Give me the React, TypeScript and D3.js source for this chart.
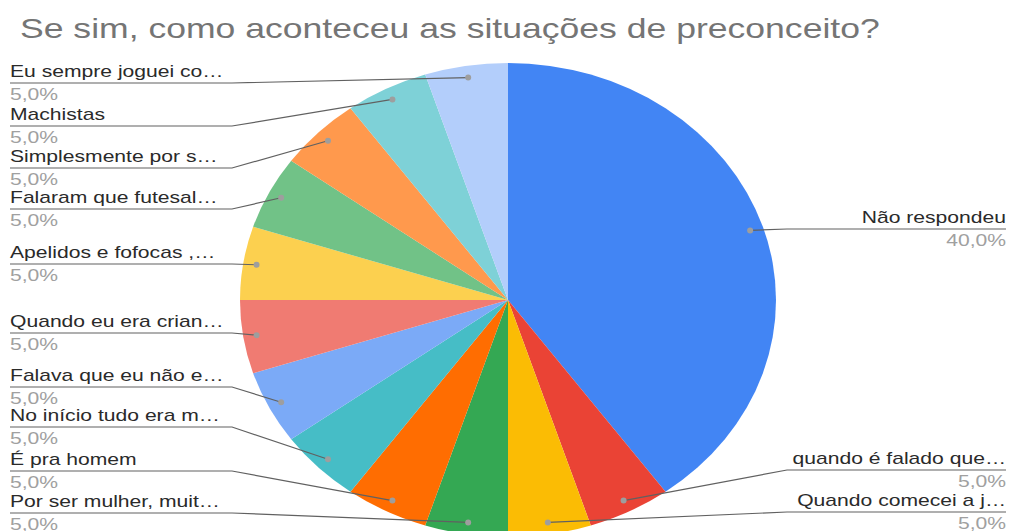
import { useRef, useEffect } from "react";
import * as d3 from "d3";

const title = "Se sim, como aconteceu as situações de preconceito?";

const categories = [
  "Não respondeu",
  "quando é falado que…",
  "Quando comecei a j…",
  "Por ser mulher, muit…",
  "É pra homem",
  "No início tudo era m…",
  "Falava que eu não e…",
  "Quando eu era crian…",
  "Apelidos e fofocas ,…",
  "Falaram que futesal…",
  "Simplesmente por s…",
  "Machistas",
  "Eu sempre joguei co…",
];

const values = [40, 5, 5, 5, 5, 5, 5, 5, 5, 5, 5, 5, 5];

const colors = [
  "#4285f4",
  "#ea4335",
  "#fbbc04",
  "#34a853",
  "#ff6d01",
  "#46bdc6",
  "#7baaf7",
  "#f07b72",
  "#fcd04f",
  "#71c287",
  "#ff994d",
  "#7ed1d7",
  "#b3cefb",
];

// y of the leader line under each label (layout only)
const labelLineY = [229, 470, 512, 513, 471, 427, 387, 333, 264, 209, 168, 126, 83];

const App = () => {
  const chartRef = useRef<HTMLDivElement>(null);

  useEffect(() => {
    const width = 1011;
    const height = 531;
    const cx = 508;
    const cy = 300;
    const ry = 237;
    const rx = 268;
    const sx = rx / ry;
    const textSx = 1.32;

    const svg = d3
      .select(chartRef.current)
      .append("svg")
      .attr("width", width)
      .attr("height", height)
      .style("display", "block")
      .style("font-family", "'Liberation Sans', Arial, sans-serif");

    svg.append("rect").attr("width", width).attr("height", height).attr("fill", "#fff");

    svg
      .append("text")
      .attr("transform", `translate(20, 38) scale(1.27, 1)`)
      .attr("font-size", 28)
      .attr("fill", "#757575")
      .text(title);

    const pie = d3
      .pie<number>()
      .sort(null)
      .value(d => d);
    const arcs = pie(values);

    const arc = d3.arc<d3.PieArcDatum<number>>().innerRadius(0).outerRadius(ry);
    const dotArc = d3
      .arc<d3.PieArcDatum<number>>()
      .innerRadius(ry * 0.95)
      .outerRadius(ry * 0.95);

    svg
      .append("g")
      .attr("transform", `translate(${cx}, ${cy}) scale(${sx}, 1)`)
      .selectAll("path")
      .data(arcs)
      .enter()
      .append("path")
      .attr("d", arc)
      .attr("fill", (_d, i) => colors[i]);

    const labels = svg.append("g");

    arcs.forEach((d, i) => {
      const [px, py] = dotArc.centroid(d);
      const dotX = cx + px * sx;
      const dotY = cy + py;
      const mid = (d.startAngle + d.endAngle) / 2;
      const right = mid < Math.PI;
      const ly = labelLineY[i];
      const textX = right ? 1006 : 10;
      const elbowX = right ? 787 : 232;
      const pct = values[i].toFixed(1).replace(".", ",") + "%";

      labels
        .append("path")
        .attr("d", `M${textX},${ly}H${elbowX}L${dotX},${dotY}`)
        .attr("fill", "none")
        .attr("stroke", "#616161")
        .attr("stroke-width", 1.2);

      labels
        .append("circle")
        .attr("cx", dotX)
        .attr("cy", dotY)
        .attr("r", 3)
        .attr("fill", "#9e9e9e");

      labels
        .append("text")
        .attr("transform", `translate(${textX}, ${ly - 6}) scale(${textSx}, 1)`)
        .attr("text-anchor", right ? "end" : "start")
        .attr("font-size", 16)
        .attr("fill", "#2a2a2a")
        .text(categories[i]);

      labels
        .append("text")
        .attr("transform", `translate(${textX}, ${ly + 17}) scale(${textSx}, 1)`)
        .attr("text-anchor", right ? "end" : "start")
        .attr("font-size", 16)
        .attr("fill", "#a0a0a0")
        .text(pct);
    });

    return () => {
      svg.remove();
    };
  }, []);

  return <div ref={chartRef} style={{ position: "absolute", left: 0, top: 0 }}></div>;
};

export default App;
